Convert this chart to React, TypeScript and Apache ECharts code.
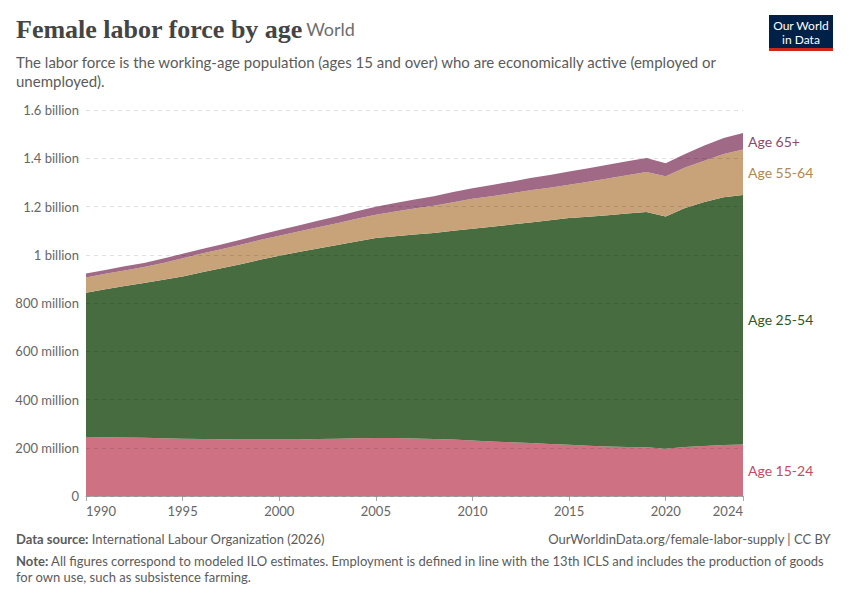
import React, { useEffect, useRef } from "react";
import * as echarts from "echarts";

// female labour force by age band, millions, 1990-2024
const years = [
  1990, 1991, 1992, 1993, 1994, 1995, 1996, 1997, 1998, 1999, 2000, 2001, 2002, 2003, 2004, 2005, 2006,
  2007, 2008, 2009, 2010, 2011, 2012, 2013, 2014, 2015, 2016, 2017, 2018, 2019, 2020, 2021, 2022, 2023,
  2024,
];
const age15to24 = [
  245, 244, 243, 241, 239, 237, 236, 235, 234, 234, 234, 234, 236, 237, 239, 240, 240, 238, 236, 234, 230,
  226, 223, 220, 216, 212, 208, 205, 203, 202, 196, 203, 207, 211, 213,
];
const age25to54 = [
  597, 613, 627, 642, 657, 673, 691, 709, 727, 745, 762, 777, 790, 803, 816, 829, 837, 846, 854, 865, 878,
  890, 902, 914, 927, 940, 950, 959, 968, 975, 963, 991, 1012, 1027, 1035,
];
const age55to64 = [
  64, 64, 65, 66, 70, 76, 78, 79, 80, 82, 83, 85, 88, 91, 94, 97, 102, 108, 113, 119, 124, 127, 130, 133,
  135, 138, 145, 152, 159, 166, 166, 168, 171, 180, 188,
];
const age65plus = [
  16, 16, 17, 17, 18, 18, 19, 20, 21, 22, 24, 25, 27, 29, 31, 33, 35, 37, 40, 42, 44, 46, 48, 51, 53, 55,
  56, 57, 58, 58, 54, 56, 63, 66, 69,
];
const xTicks = [1990, 1995, 2000, 2005, 2010, 2015, 2020, 2024];

const bands = [
  { name: "Age 15-24", values: age15to24, fill: "#CE7283", text: "#C44B65" },
  { name: "Age 25-54", values: age25to54, fill: "#476C3F", text: "#2D5828" },
  { name: "Age 55-64", values: age55to64, fill: "#C8A37A", text: "#B38755" },
  { name: "Age 65+", values: age65plus, fill: "#A06A86", text: "#8A4872" },
];

const sans = "Lato, 'Noto Sans', sans-serif";

function formatPeople(v: number) {
  if (v === 0) return "0";
  if (v >= 1000) return `${+(v / 1000).toFixed(1)} billion`;
  return `${v} million`;
}

const showYear = (i: number) => xTicks.includes(years[i]);

const App: React.FC = () => {
  const chartRef = useRef<HTMLDivElement | null>(null);

  useEffect(() => {
    if (!chartRef.current) return;
    document.body.style.margin = "0";
    const chart = echarts.init(chartRef.current, null, { renderer: "svg" });

    const option: any = {
      animation: false,
      grid: { left: 86, right: 107, top: 110, bottom: 104 },
      xAxis: {
        type: "category",
        data: years.map(String),
        boundaryGap: false,
        axisLine: { show: true, lineStyle: { color: "#aaa" } },
        axisTick: { show: true, length: 5, lineStyle: { color: "#aaa" }, interval: showYear },
        axisLabel: {
          interval: showYear,
          color: "#666",
          fontFamily: sans,
          fontSize: 13,
          margin: 8,
          alignMinLabel: "left",
          alignMaxLabel: "right",
        },
        splitLine: { show: false },
      },
      yAxis: {
        type: "value",
        min: 0,
        max: 1600,
        interval: 200,
        z: 5,
        axisLine: { show: false },
        axisTick: { show: false },
        axisLabel: {
          color: "#666",
          fontFamily: sans,
          fontSize: 13,
          margin: 7,
          formatter: formatPeople,
        },
        splitLine: { lineStyle: { color: "rgba(0,0,0,0.12)", type: [4, 4] } },
      },
      series: bands.map((b) => ({
        name: b.name,
        type: "line",
        stack: "total",
        symbol: "none",
        lineStyle: { width: 0 },
        areaStyle: { color: b.fill, opacity: 1 },
        data: b.values,
      })),
    };
    chart.setOption(option);

    // end labels sit at the middle of each band in the last year
    const last = years.length - 1;
    let base = 0;
    const labels = bands.map((b) => {
      const mid = base + b.values[last] / 2;
      base += b.values[last];
      const [px, py] = chart.convertToPixel({ gridIndex: 0 }, [last, mid]) as number[];
      return {
        type: "text",
        x: px + 5,
        y: py,
        style: {
          text: b.name,
          fill: b.text,
          font: `14px ${sans}`,
          verticalAlign: "middle",
        },
      };
    });

    chart.setOption({
      graphic: [
        {
          type: "text",
          left: 16,
          top: 16,
          style: {
            text: "{t|Female labor force by age} {w|World}",
            rich: {
              t: {
                fontFamily: "'Liberation Serif', 'DejaVu Serif', serif",
                fontWeight: "bold",
                fontSize: 26,
                fill: "#444",
              },
              w: { fontFamily: sans, fontSize: 18, fill: "#6e6e6e" },
            },
          },
        },
        {
          type: "text",
          left: 16,
          top: 52,
          style: {
            text:
              "The labor force is the working-age population (ages 15 and over) who are economically active (employed or\nunemployed).",
            fill: "#5b5b5b",
            font: `15px ${sans}`,
            lineHeight: 19,
          },
        },
        // logo
        { type: "rect", right: 17, top: 15, shape: { width: 64, height: 33 }, style: { fill: "#002147" } },
        { type: "rect", right: 17, top: 48, shape: { width: 64, height: 3 }, style: { fill: "#CE261E" } },
        {
          type: "text",
          x: 801,
          y: 25,
          style: { text: "Our World", fill: "#fff", font: `12px ${sans}`, align: "center", verticalAlign: "middle" },
        },
        {
          type: "text",
          x: 801,
          y: 39,
          style: { text: "in Data", fill: "#fff", font: `12px ${sans}`, align: "center", verticalAlign: "middle" },
        },
        {
          type: "text",
          left: 16,
          top: 532,
          style: {
            text: "{b|Data source:} International Labour Organization (2026)",
            fill: "#5b5b5b",
            font: `13px ${sans}`,
            rich: { b: { fontFamily: sans, fontSize: 13, fontWeight: "bold", fill: "#5b5b5b" } },
          },
        },
        {
          type: "text",
          right: 19,
          top: 532,
          style: {
            text: "OurWorldinData.org/female-labor-supply | CC BY",
            fill: "#5b5b5b",
            font: `13px ${sans}`,
          },
        },
        {
          type: "text",
          left: 16,
          top: 553,
          style: {
            text:
              "{b|Note:} All figures correspond to modeled ILO estimates. Employment is defined in line with the 13th ICLS and includes the production of goods\nfor own use, such as subsistence farming.",
            fill: "#5b5b5b",
            font: `13px ${sans}`,
            lineHeight: 16,
            rich: { b: { fontFamily: sans, fontSize: 13, fontWeight: "bold", fill: "#5b5b5b", lineHeight: 16 } },
          },
        },
        ...labels,
      ],
    });

    return () => {
      chart.dispose();
    };
  }, []);

  return <div ref={chartRef} style={{ width: "850px", height: "600px" }} />;
};

export default App;
